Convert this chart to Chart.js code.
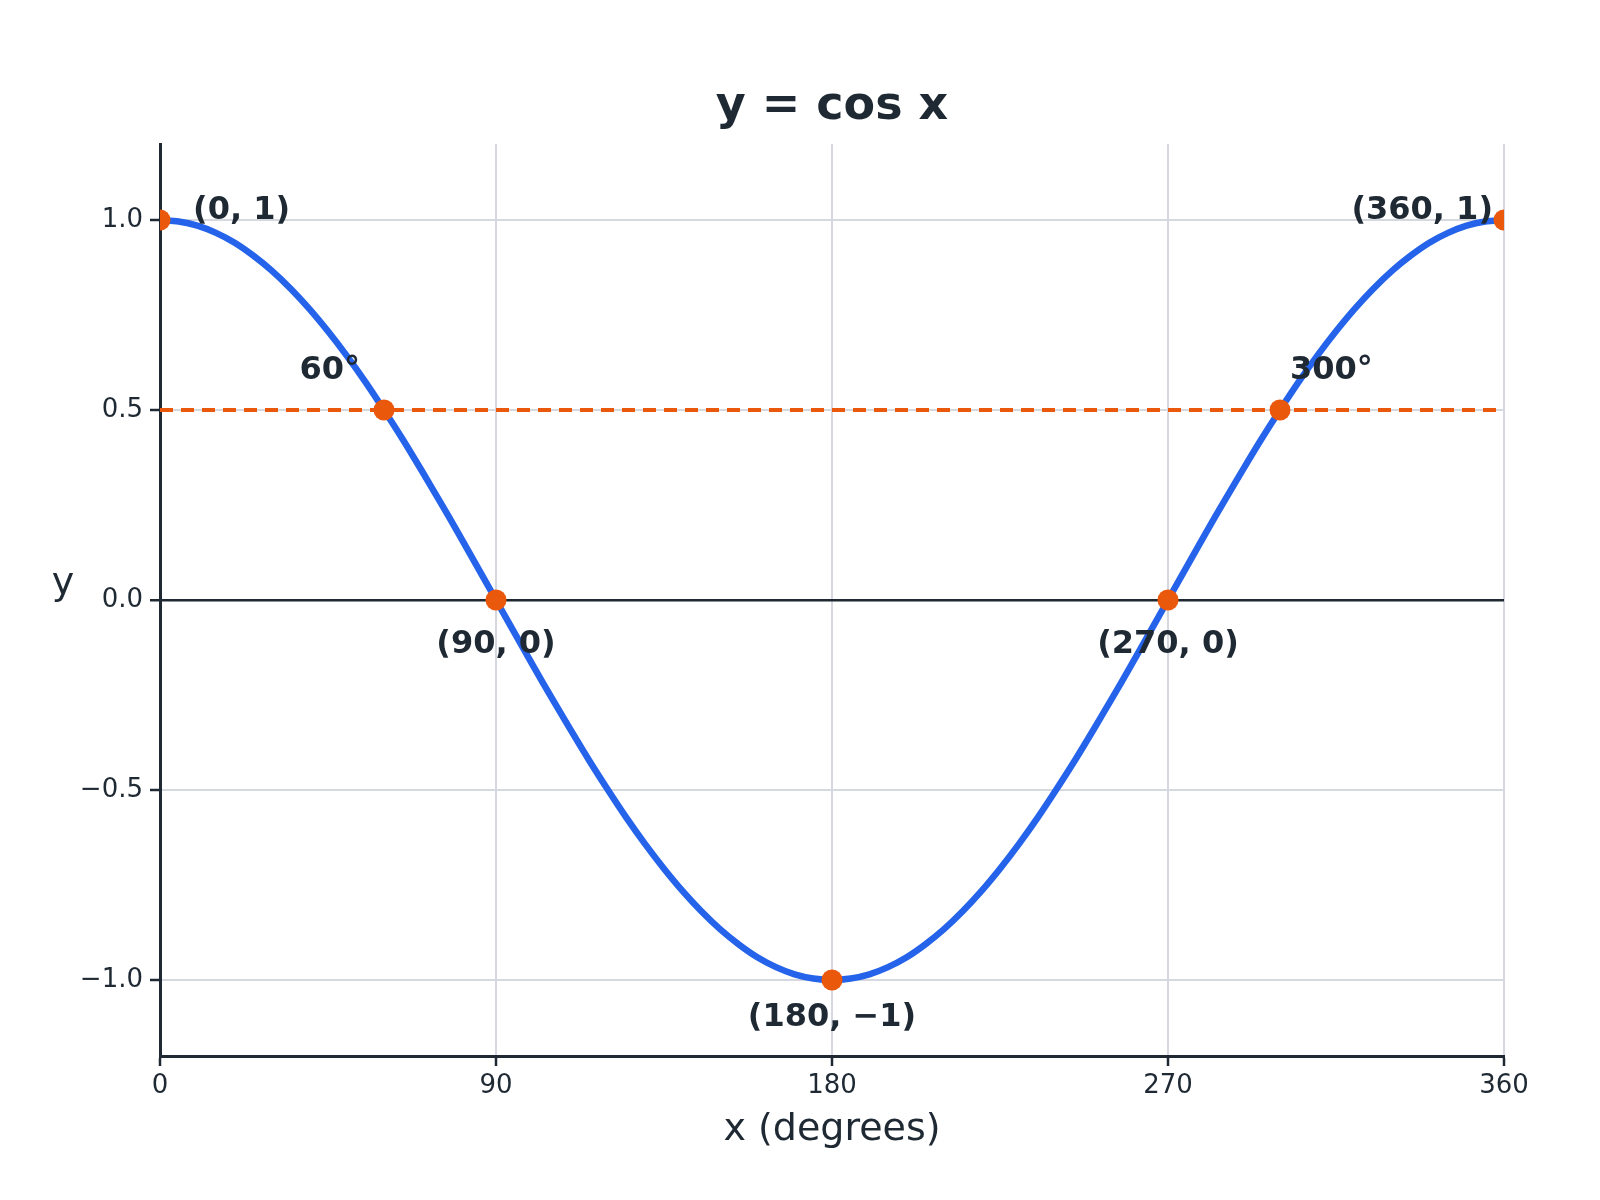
<!DOCTYPE html>
<html>
<head>
<meta charset="utf-8">
<title>y = cos x</title>
<script src="https://cdn.jsdelivr.net/npm/chart.js@4.4.1/dist/chart.umd.min.js"></script>
<style>
    body { margin: 0; background: #fff; }
    .wrap { width: 1600px; height: 1200px; position: relative; }
</style>
</head>
<body>
<div class="wrap"><canvas id="cosChart"></canvas></div>
<script>
// curve, every 5 degrees
var xDeg = [0, 5, 10, 15, 20, 25, 30, 35, 40, 45, 50, 55, 60, 65, 70, 75, 80, 85, 90,
    95, 100, 105, 110, 115, 120, 125, 130, 135, 140, 145, 150, 155, 160, 165, 170, 175, 180,
    185, 190, 195, 200, 205, 210, 215, 220, 225, 230, 235, 240, 245, 250, 255, 260, 265, 270,
    275, 280, 285, 290, 295, 300, 305, 310, 315, 320, 325, 330, 335, 340, 345, 350, 355, 360];
var yCos = [1.000, 0.996, 0.985, 0.966, 0.940, 0.906, 0.866, 0.819, 0.766, 0.707, 0.643, 0.574, 0.500, 0.423, 0.342, 0.259, 0.174, 0.087, 0.000,
    -0.087, -0.174, -0.259, -0.342, -0.423, -0.500, -0.574, -0.643, -0.707, -0.766, -0.819, -0.866, -0.906, -0.940, -0.966, -0.985, -0.996, -1.000,
    -0.996, -0.985, -0.966, -0.940, -0.906, -0.866, -0.819, -0.766, -0.707, -0.643, -0.574, -0.500, -0.423, -0.342, -0.259, -0.174, -0.087, 0.000,
    0.087, 0.174, 0.259, 0.342, 0.423, 0.500, 0.574, 0.643, 0.707, 0.766, 0.819, 0.866, 0.906, 0.940, 0.966, 0.985, 0.996, 1.000];

// marked points
var keyX = [0, 60, 90, 180, 270, 300, 360];
var keyY = [1, 0.5, 0, -1, 0, 0.5, 1];
var keyLabels = ["(0, 1)", "60°", "(90, 0)", "(180, −1)", "(270, 0)", "300°", "(360, 1)"];

// dashed reference line y = 0.5
var refX = [0, 360];
var refY = [0.5, 0.5];

var xTicks = [0, 90, 180, 270, 360];
var yTicks = [-1, -0.5, 0, 0.5, 1];

var dark = '#1f2933';
var gridGrey = '#d5d8de';
var blue = '#2563eb';
var orange = '#ea580c';
var fam = '"DejaVu Sans", sans-serif';

function pairs(xs, ys) {
    return xs.map(function (x, i) { return { x: x, y: ys[i] }; });
}

// where each label sits relative to its point (px)
var labelPlace = [
    { dx: 33, dy: -9, align: 'left' },
    { dx: -24, dy: -39, align: 'right' },
    { dx: 0, dy: 45, align: 'center' },
    { dx: 0, dy: 38, align: 'center' },
    { dx: 0, dy: 45, align: 'center' },
    { dx: 10, dy: -39, align: 'left' },
    { dx: -11, dy: -9, align: 'right' }
];

var labelPlugin = {
    id: 'pointLabels',
    afterDatasetsDraw: function (chart) {
        var c = chart.ctx;
        var xs = chart.scales.x, ys = chart.scales.y;
        var area = chart.chartArea;
        c.save();
        c.fillStyle = dark;
        c.textBaseline = 'middle';
        // title, centred over the plot area
        c.font = 'bold 46px ' + fam;
        c.textAlign = 'center';
        c.fillText('y = cos x', (area.left + area.right) / 2, 107);

        c.font = 'bold 32px ' + fam;
        keyLabels.forEach(function (t, i) {
            var p = labelPlace[i];
            c.textAlign = p.align;
            c.fillText(t, xs.getPixelForValue(keyX[i]) + p.dx, ys.getPixelForValue(keyY[i]) + p.dy);
        });
        // horizontal y axis title
        c.font = '38px ' + fam;
        c.textAlign = 'center';
        c.fillText('y', 63, ys.getPixelForValue(0) - 16);
        c.restore();
    }
};

var ctx = document.getElementById("cosChart").getContext('2d');
var cosChart = new Chart(ctx, {
    type: 'line',
    data: {
        datasets: [{
            label: 'points',
            data: pairs(keyX, keyY),
            showLine: false,
            pointRadius: 10.5,
            pointBackgroundColor: orange,
            pointBorderWidth: 0,
            clip: 0,
            order: 0
        }, {
            label: 'cos x',
            data: pairs(xDeg, yCos),
            borderColor: blue,
            borderWidth: 6.5,
            pointRadius: 0,
            tension: 0.3,
            fill: false,
            order: 1
        }, {
            label: 'y = 0.5',
            data: pairs(refX, refY),
            borderColor: orange,
            borderWidth: 4,
            borderDash: [13, 8],
            pointRadius: 0,
            fill: false,
            order: 2
        }]
    },
    options: {
        responsive: true,
        maintainAspectRatio: false,
        animation: false,
        devicePixelRatio: 1,
        layout: { padding: { left: 0, right: 96, top: 144, bottom: 47 } },
        plugins: {
            legend: { display: false },
            tooltip: { enabled: false },
            title: { display: false }
        },
        scales: {
            x: {
                type: 'linear',
                position: 'bottom',
                min: 0,
                max: 360,
                afterBuildTicks: function (s) {
                    s.ticks = xTicks.map(function (v) { return { value: v }; });
                },
                afterFit: function (s) {
                    s.height = 97;
                    s.paddingLeft = 0;
                    s.paddingRight = 0;
                },
                ticks: {
                    color: dark,
                    font: { family: fam, size: 26 },
                    padding: 5,
                    maxRotation: 0
                },
                grid: {
                    color: gridGrey,
                    lineWidth: 2,
                    tickColor: dark,
                    tickLength: 10,
                    tickWidth: 2.5
                },
                border: { color: dark, width: 3 },
                title: {
                    display: true,
                    text: 'x (degrees)',
                    color: dark,
                    font: { family: fam, size: 38 },
                    padding: 0
                }
            },
            y: {
                type: 'linear',
                min: -1.2,
                max: 1.2,
                afterBuildTicks: function (s) {
                    s.ticks = yTicks.map(function (v) { return { value: v }; });
                },
                afterFit: function (s) {
                    s.width = 160;
                    s.paddingTop = 0;
                    s.paddingBottom = 0;
                },
                ticks: {
                    color: dark,
                    font: { family: fam, size: 26 },
                    padding: 7,
                    callback: function (v) { return v.toFixed(1).replace('-', '\u2212'); }
                },
                grid: {
                    color: function (c) { return c.tick && c.tick.value === 0 ? dark : gridGrey; },
                    lineWidth: function (c) { return c.tick && c.tick.value === 0 ? 2.5 : 2; },
                    tickColor: dark,
                    tickLength: 10,
                    tickWidth: 2.5
                },
                border: { color: dark, width: 3 }
            }
        }
    },
    plugins: [labelPlugin]
});
</script>
</body>
</html>
